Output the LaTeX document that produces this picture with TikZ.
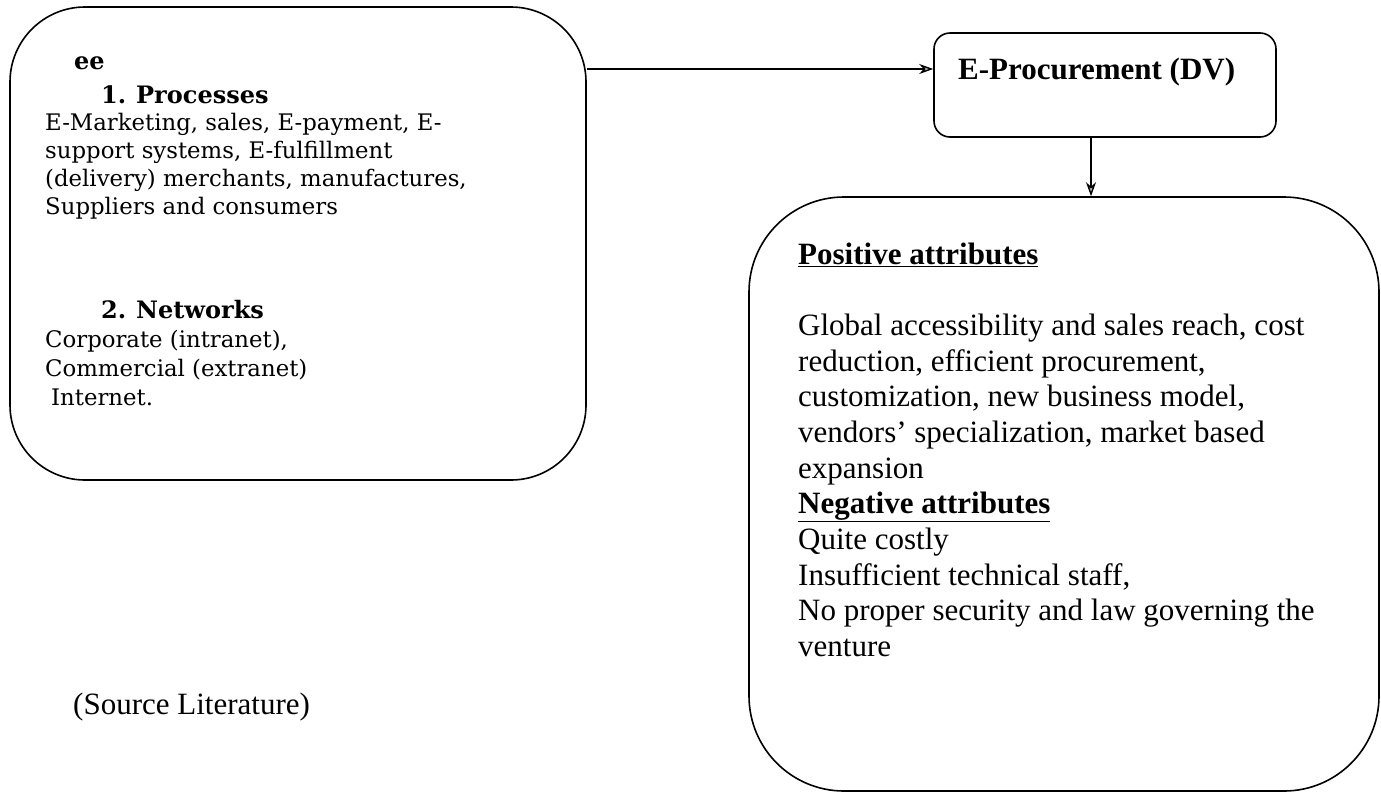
\documentclass[tikz,border=0pt]{standalone}
\usepackage{fontspec}
\setmainfont{Liberation Serif}
\newfontfamily\leftfont{DejaVu Serif}
\usetikzlibrary{arrows.meta}
\begin{document}
\begin{tikzpicture}[x=1pt,y=-1pt,
  box/.style={draw, line width=1.6pt, inner sep=0pt},
  ltxt/.style={anchor=base west, inner sep=0pt, font=\leftfont\fontsize{22.8}{28}\selectfont},
  lbtxt/.style={ltxt, font=\leftfont\fontsize{24}{28}\selectfont\bfseries},
  rtxt/.style={anchor=base west, inner sep=0pt, font=\fontsize{31}{35.7}\selectfont},
  rbtxt/.style={rtxt, font=\fontsize{31}{35.7}\selectfont\bfseries},
  arr/.style={line width=1.4pt, -{Stealth[length=14pt,width=10pt,fill=gray!50]}}]
\useasboundingbox (0,0) rectangle (1381,793);
% boxes
\node[box, minimum width=576pt, minimum height=473pt, rounded corners=75pt] (left) at (298,243.5) {};
\node[box, minimum width=342pt, minimum height=104pt, rounded corners=16pt] (proc) at (1105,85) {};
\node[box, minimum width=630pt, minimum height=594pt, rounded corners=95pt] (right) at (1064,494) {};
% connectors
\draw[arr] ([yshift=16pt]proc.west -| left.east) -- ([yshift=16pt]proc.west);
\draw[arr] ([xshift=-14pt]proc.south) -- ([xshift=-14pt]proc.south |- right.north);
% left box text
\node[lbtxt] (t1) at (74,69) {ee};
\node[lbtxt] (t2) at (101,103) {1.};
\node[lbtxt] (t2b) at (136,103) {Processes};
\node[ltxt] (t3) at (45,130) {E-Marketing, sales, E-payment, E-};
\node[ltxt] (t4) at (45,158) {support systems, E-fulfillment};
\node[ltxt] (t5) at (45,186) {(delivery) merchants, manufactures,};
\node[ltxt] (t6) at (45,214) {Suppliers and consumers};
\node[lbtxt] (t7) at (101,318) {2.};
\node[lbtxt] (t7b) at (136,318) {Networks};
\node[ltxt] (t8) at (45,347) {Corporate (intranet),};
\node[ltxt] (t9) at (45,376) {Commercial (extranet)};
\node[ltxt] (t10) at (51,405) {Internet.};
\node[rtxt] (src) at (73,714) {(Source Literature)};
% proc text
\node[rbtxt] (pt) at (958,79) {E-Procurement (DV)};
% right box text
\node[rbtxt] (r1) at (798,264) {\underline{Positive attributes}};
\node[rtxt] (r2) at (798,335) {Global accessibility and sales reach, cost};
\node[rtxt] (r3) at (798,371) {reduction, efficient procurement,};
\node[rtxt] (r4) at (798,406) {customization, new business model,};
\node[rtxt] (r5) at (798,442) {vendors’ specialization, market based};
\node[rtxt] (r6) at (798,478) {expansion};
\node[rbtxt] (r7) at (798,513) {\underline{Negative attributes}};
\node[rtxt] (r8) at (798,549) {Quite costly};
\node[rtxt] (r9) at (798,585) {Insufficient technical staff,};
\node[rtxt] (r10) at (798,620) {No proper security and law governing the};
\node[rtxt] (r11) at (798,656) {venture};
\end{tikzpicture}
\end{document}
